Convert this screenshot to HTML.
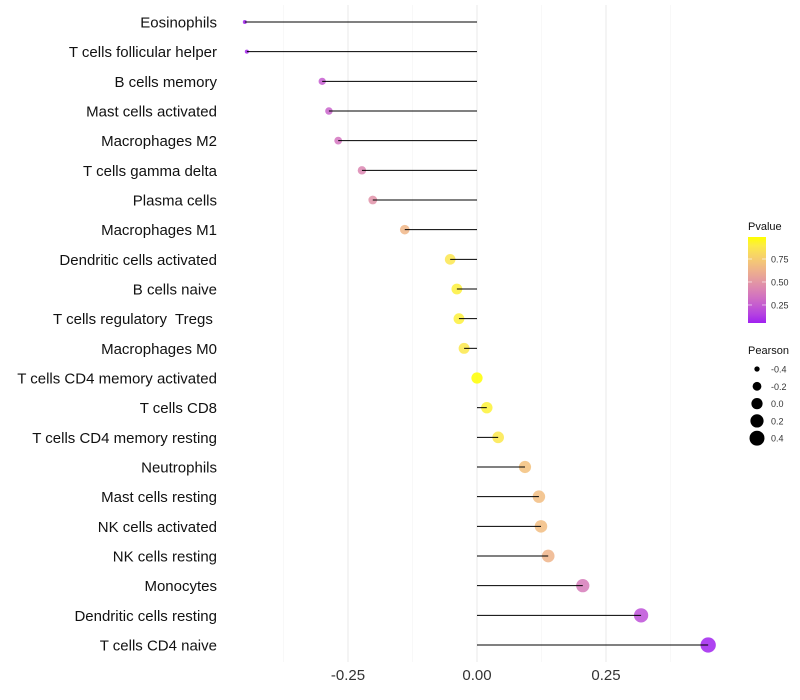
<!DOCTYPE html>
<html><head><meta charset="utf-8"><style>
body{margin:0;background:#fff;font-family:"Liberation Sans",sans-serif}
svg{display:block}
text{white-space:pre}
</style></head><body>
<svg id="chart" width="800" height="700">
<g id="grid"></g><g id="marks"></g><g id="labels"></g><g id="legend"></g>
</svg>
<script>
const categories=["Eosinophils","T cells follicular helper","B cells memory","Mast cells activated","Macrophages M2","T cells gamma delta","Plasma cells","Macrophages M1","Dendritic cells activated","B cells naive","T cells regulatory  Tregs ","Macrophages M0","T cells CD4 memory activated","T cells CD8","T cells CD4 memory resting","Neutrophils","Mast cells resting","NK cells activated","NK cells resting","Monocytes","Dendritic cells resting","T cells CD4 naive"];
const pearson=[-0.45,-0.446,-0.30,-0.287,-0.269,-0.223,-0.202,-0.14,-0.052,-0.039,-0.035,-0.025,0.0,0.019,0.041,0.093,0.12,0.124,0.138,0.205,0.318,0.448];
const pvalues=[0.06,0.07,0.25,0.28,0.35,0.43,0.48,0.65,0.87,0.92,0.92,0.88,0.99,0.93,0.88,0.7,0.68,0.68,0.64,0.38,0.2,0.06];
const xTicks=[-0.25,0,0.25];
const xTickLabels=["-0.25","0.00","0.25"];
const xMinor=[-0.375,-0.125,0.125,0.375];
const pTicks=[0.25,0.5,0.75];
const sizeTicks=[-0.4,-0.2,0,0.2,0.4];
const NS="http://www.w3.org/2000/svg";
function mk(tag,attrs,parent){const e=document.createElementNS(NS,tag);for(const k in attrs)e.setAttribute(k,attrs[k]);parent.appendChild(e);return e;}
const x=v=>477+v*516;
const y=i=>22+i*(623/21);
const pMin=0.054,pMax=0.989;
function toLin(c){c/=255;return c<=0.04045?c/12.92:Math.pow((c+0.055)/1.055,2.4);}
function fromLin(c){c=c<=0.0031308?12.92*c:1.055*Math.pow(c,1/2.4)-0.055;return Math.round(Math.max(0,Math.min(1,c))*255);}
const Wn=[0.95047,1,1.08883];
function f(t){return t>0.008856?Math.cbrt(t):7.787*t+16/116;}
function fi(t){return t>0.206893?t*t*t:(t-16/116)/7.787;}
function rgb2lab(c){const [r,g,b]=c.map(toLin);
 const X=(0.4124*r+0.3576*g+0.1805*b)/Wn[0],Y=(0.2126*r+0.7152*g+0.0722*b)/Wn[1],Z=(0.0193*r+0.1192*g+0.9505*b)/Wn[2];
 return [116*f(Y)-16,500*(f(X)-f(Y)),200*(f(Y)-f(Z))];}
function lab2rgb(l){const fy=(l[0]+16)/116,fx=fy+l[1]/500,fz=fy-l[2]/200;
 const X=fi(fx)*Wn[0],Y=fi(fy)*Wn[1],Z=fi(fz)*Wn[2];
 const r=3.2406*X-1.5372*Y-0.4986*Z,g=-0.9689*X+1.8758*Y+0.0415*Z,b=0.0557*X-0.2040*Y+1.0570*Z;
 return [fromLin(r),fromLin(g),fromLin(b)];}
const LA=rgb2lab([160,32,240]),LB=rgb2lab([255,255,0]);
function col(p){let t=(p-pMin)/(pMax-pMin);t=Math.max(0,Math.min(1,t));
 return `rgb(${lab2rgb(LA.map((c,i)=>c+(LB[i]-c)*t)).join(",")})`;}
const sMin=-0.45,sMax=0.45;
const r=v=>Math.sqrt(4+(v-sMin)/(sMax-sMin)*55);
const grid=document.getElementById('grid'),marks=document.getElementById('marks'),labels=document.getElementById('labels'),legend=document.getElementById('legend');
xMinor.forEach(v=>{const l=mk('line',{x1:x(v),x2:x(v),y1:5,y2:662,stroke:'#f3f3f3','stroke-width':0.6},grid);});
xTicks.forEach((v,i)=>{const l=mk('line',{x1:x(v),x2:x(v),y1:5,y2:662,stroke:'#ebebeb','stroke-width':1.1},grid);
 const t=mk('text',{x:x(v),y:680,'text-anchor':'middle','font-size':15,fill:'#333'},labels);t.textContent=xTickLabels[i];});
categories.forEach((c,i)=>{
 const t=mk('text',{x:217,y:y(i)+5.5,'text-anchor':'end','font-size':15,fill:'#111'},labels);t.textContent=c;
 
 const d=mk('circle',{cx:x(pearson[i]),cy:y(i),r:r(pearson[i]),fill:col(pvalues[i]),'fill-opacity':0.85},marks);
 
 const l=mk('line',{x1:x(0),x2:x(pearson[i]),y1:y(i),y2:y(i),stroke:'#000','stroke-width':1},marks);
 
});
let t=mk('text',{x:748,y:230,'font-size':11,fill:'#111'},legend);t.textContent='Pvalue';
const defs=mk('defs',{},legend);const g=mk('linearGradient',{id:'pg',x1:0,y1:1,x2:0,y2:0},defs);
for(let k=0;k<=10;k++){const p=pMin+(pMax-pMin)*k/10;mk('stop',{offset:k/10,'stop-color':col(p)},g);}
const bar=mk('rect',{x:748,y:237,width:18,height:86,fill:'url(#pg)'},legend);
const py=p=>323-(p-pMin)/(pMax-pMin)*86;
pTicks.forEach(p=>{mk('line',{x1:748,x2:752,y1:py(p),y2:py(p),stroke:'#fff','stroke-opacity':0.6},legend);mk('line',{x1:762,x2:766,y1:py(p),y2:py(p),stroke:'#fff','stroke-opacity':0.6},legend);
 const tt=mk('text',{x:771,y:py(p)+3.5,'font-size':9,fill:'#333'},legend);tt.textContent=p.toFixed(2);});
t=mk('text',{x:748,y:354,'font-size':11,fill:'#111'},legend);t.textContent='Pearson';
sizeTicks.forEach((s,i)=>{const cy=369+i*17.3;
 const c=mk('circle',{cx:757,cy:cy,r:r(s),fill:'#000'},legend);
 const tt=mk('text',{x:771,y:cy+3.5,'font-size':9,fill:'#333'},legend);tt.textContent=s.toFixed(1);});
</script>
</body></html>
